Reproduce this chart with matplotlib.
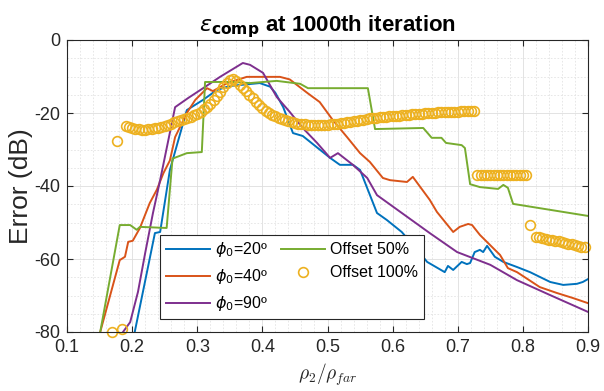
import numpy as np
import matplotlib
matplotlib.use('Agg')
import matplotlib.pyplot as plt
from matplotlib.ticker import MultipleLocator

plt.rcParams['font.family'] = ['Liberation Sans', 'DejaVu Sans']
plt.rcParams['axes.unicode_minus'] = False

# phi0 = 20
x_20 = [0.204, 0.235, 0.243, 0.258, 0.284, 0.309, 0.330, 0.350, 0.396, 0.412, 0.420, 0.432,
        0.447, 0.462, 0.504, 0.519, 0.539, 0.550, 0.576, 0.591, 0.614, 0.642, 0.653, 0.680,
        0.685, 0.693, 0.706, 0.714, 0.719, 0.726, 0.734, 0.739, 0.745, 0.757, 0.770, 0.791,
        0.811, 0.842, 0.862, 0.883, 0.892, 0.900]
y_20 = [-80, -52.9, -52.6, -35.6, -19.2, -16.4, -13.7, -12.6, -11.8, -12.8, -14.5, -18.4,
        -25.5, -26.3, -32.3, -34.2, -34.2, -35.6, -47.4, -49.3, -52.6, -58.4, -60.8, -63.6,
        -61.9, -63.0, -60.8, -61.4, -61.1, -58.1, -57.5, -58.1, -56.4, -59.4, -60.8, -62.2,
        -63.6, -66.3, -67.1, -66.8, -66.3, -65.5]

# phi0 = 40
x_40 = [0.151, 0.181, 0.189, 0.194, 0.201, 0.212, 0.227, 0.238, 0.248, 0.258, 0.266, 0.284,
        0.297, 0.315, 0.324, 0.346, 0.376, 0.427, 0.442, 0.469, 0.488, 0.508, 0.530, 0.550,
        0.565, 0.585, 0.596, 0.622, 0.631, 0.657, 0.668, 0.693, 0.703, 0.716, 0.722, 0.734,
        0.765, 0.777, 0.791, 0.826, 0.852, 0.877, 0.900]
y_40 = [-80, -60.3, -59.4, -55.3, -55.0, -51.5, -44.7, -41.0, -36.5, -33.0, -26.6, -20.0,
        -16.4, -13.2, -14.0, -11.8, -10.1, -10.1, -10.8, -14.5, -17.0, -21.9, -26.6, -31.0,
        -33.4, -37.8, -38.4, -38.9, -37.5, -43.8, -47.1, -52.6, -51.2, -50.4, -50.7, -53.4,
        -58.9, -62.5, -63.6, -67.7, -69.3, -70.7, -72.1]

# phi0 = 90
x_90 = [0.186, 0.197, 0.209, 0.220, 0.232, 0.243, 0.266, 0.286, 0.309, 0.335, 0.370, 0.381,
        0.401, 0.422, 0.442, 0.462, 0.484, 0.504, 0.516, 0.539, 0.561, 0.576, 0.657, 0.699,
        0.750, 0.791, 0.842, 0.900]
y_90 = [-80, -77.3, -69.0, -58.4, -47.4, -38.4, -18.4, -15.9, -13.2, -10.1, -6.3, -6.8,
        -9.0, -15.6, -19.7, -24.1, -28.2, -32.3, -31.0, -34.2, -37.8, -42.5, -52.9, -58.1,
        -61.6, -65.8, -69.9, -74.5]

# offset 50%
x_o50 = [0.151, 0.181, 0.197, 0.207, 0.212, 0.253, 0.262, 0.284, 0.307, 0.312, 0.355, 0.381,
         0.422, 0.458, 0.470, 0.562, 0.573, 0.647, 0.660, 0.675, 0.682, 0.706, 0.711, 0.719,
         0.734, 0.762, 0.770, 0.777, 0.785, 0.900]
y_o50 = [-80, -50.7, -50.7, -52.0, -51.2, -51.5, -32.5, -31.0, -30.7, -11.5, -11.5, -11.8,
         -11.2, -12.0, -13.2, -13.2, -24.4, -24.1, -26.8, -26.8, -28.2, -28.8, -29.6, -39.5,
         -40.3, -40.8, -39.7, -40.5, -44.9, -48.2]

# offset 100% (markers only), sampled every 0.005 along each run
o100_start = [0.190, 0.730, 0.820]
o100_runs = [
    [-23.6, -23.9, -24.1, -24.3, -24.5, -24.6, -24.6, -24.5, -24.4, -24.2,
     -24.0, -23.8, -23.5, -23.2, -22.9, -22.6, -22.3, -22.0, -21.6, -21.3,
     -21.0, -20.6, -20.2, -19.6, -19.0, -18.3, -17.4, -16.4, -15.3, -14.2,
     -13.0, -11.8, -11.0, -10.7, -11.2, -12.2, -13.2, -14.1, -15.0, -16.0,
     -17.0, -17.9, -18.7, -19.4, -20.0, -20.5, -20.9, -21.3, -21.7, -22.0,
     -22.3, -22.5, -22.7, -22.9, -23.0, -23.1, -23.2, -23.2, -23.3, -23.3,
     -23.3, -23.2, -23.2, -23.1, -23.0, -22.9, -22.8, -22.7, -22.6, -22.5,
     -22.3, -22.1, -22.0, -21.8, -21.7, -21.5, -21.4, -21.3, -21.2, -21.1,
     -21.0, -20.9, -20.9, -20.8, -20.7, -20.6, -20.5, -20.5, -20.4, -20.3,
     -20.3, -20.2, -20.1, -20.0, -20.0, -19.9, -19.8, -19.8, -19.7, -19.7,
     -19.6, -19.6, -19.6, -19.5, -19.5, -19.5, -19.4, -19.4],
    [-37.0] * 16,
    [-53.9, -54.1, -54.3, -54.5, -54.7, -54.9, -55.0, -55.2, -55.4, -55.6,
     -55.8, -56.0, -56.2, -56.4, -56.6, -56.8],
]
x_o100_extra = [0.169, 0.177, 0.184, 0.811]
y_o100_extra = [-80.0, -27.7, -79.2, -50.8]

x_o100 = list(x_o100_extra)
y_o100 = list(y_o100_extra)
for x0, run in zip(o100_start, o100_runs):
    x_o100 += list(x0 + 0.005 * np.arange(len(run)))
    y_o100 += run

xticks = [0.1, 0.2, 0.3, 0.4, 0.5, 0.6, 0.7, 0.8, 0.9]
xticklabels = ['0.1', '0.2', '0.3', '0.4', '0.5', '0.6', '0.7', '0.8', '0.9']
yticks = [-80, -60, -40, -20, 0]
yticklabels = ['-80', '-60', '-40', '-20', '0']

labels = [r'$\phi_0$=20º', r'$\phi_0$=40º', r'$\phi_0$=90º', 'Offset 50%', 'Offset 100%']
colors = ['#0072BD', '#D95319', '#7E2F8E', '#77AC30', '#EDB120']


def main():
    fig = plt.figure(figsize=(6.04, 3.91), dpi=100)
    ax = fig.add_axes([67 / 604, 1 - 332 / 391, 521 / 604, 292 / 391])

    lw = 1.4
    ax.plot(x_20, y_20, color=colors[0], lw=lw, label=labels[0])
    ax.plot(x_40, y_40, color=colors[1], lw=lw, label=labels[1])
    ax.plot(x_90, y_90, color=colors[2], lw=lw, label=labels[2])
    ax.plot(x_o50, y_o50, color=colors[3], lw=lw, label=labels[3])
    ax.plot(x_o100, y_o100, ls='none', marker='o', ms=7, mfc='none', mec=colors[4],
            mew=1.2, label=labels[4], clip_on=False)

    ax.set_xlim(0.1, 0.9)
    ax.set_ylim(-80, 0)
    ax.set_xticks(xticks)
    ax.set_xticklabels(xticklabels)
    ax.set_yticks(yticks)
    ax.set_yticklabels(yticklabels)
    ax.xaxis.set_minor_locator(MultipleLocator(0.02))
    ax.yaxis.set_minor_locator(MultipleLocator(5))

    ax.grid(True, which='major', color='#dedede', lw=0.6, ls='-')
    ax.grid(True, which='minor', color='#e3e3e3', lw=0.6, ls=(0, (2, 2)))
    ax.set_axisbelow(True)

    ax.tick_params(which='major', direction='in', length=4, top=True, right=True,
                   labelsize=13, colors='#262626', pad=5)
    ax.tick_params(which='minor', length=0)
    for s in ax.spines.values():
        s.set_color('#262626')
        s.set_linewidth(0.8)

    ax.set_ylabel('Error (dB)', fontsize=19, color='#262626', labelpad=1)
    ax.set_xlabel(r'$\rho_2/\rho_{far}$', fontsize=14, math_fontfamily='cm',
                  color='#262626', labelpad=4)
    ax.set_title(r'$\epsilon_{\mathbf{comp}}$ at 1000th iteration', fontsize=16,
                 fontweight='bold', pad=6)

    leg = ax.legend(ncol=2, loc='lower left', bbox_to_anchor=(0.1785, 0.0445),
                    borderaxespad=0, fancybox=False, framealpha=1, edgecolor='#262626',
                    fontsize=11.5, handlelength=2.8, columnspacing=0.8, handletextpad=0.3,
                    labelspacing=0.5, borderpad=0.35)
    leg.get_frame().set_linewidth(0.8)

    fig.savefig('out.png', dpi=100)


if __name__ == '__main__':
    main()
